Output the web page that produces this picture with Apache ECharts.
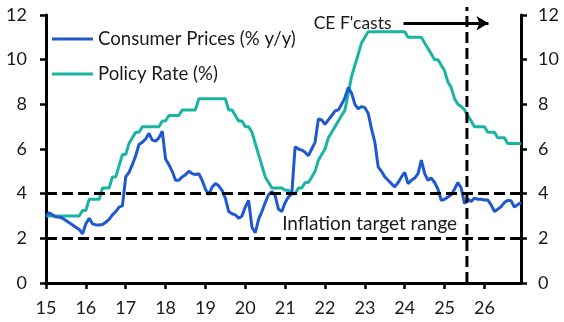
<!DOCTYPE html>
<html>
<head>
<meta charset="utf-8">
<script src="https://cdn.jsdelivr.net/npm/echarts@6/dist/echarts.min.js"></script>
<style>
html,body{margin:0;padding:0;background:#fff;}
#chart{width:564px;height:322px;}
</style>
</head>
<body>
<div id="chart"></div>
<script>
// Monthly data, Jan 2015 (index 0) .. Dec 2026 (index 143)
const startYear = 15;
const consumerPrices = [
  3.0, 3.15, 3.05, 2.95, 2.95, 2.9, 2.8, 2.7, 2.6, 2.5, 2.4, 2.2,
  2.65, 2.9, 2.65, 2.6, 2.6, 2.62, 2.72, 2.85, 3.05, 3.2, 3.4, 3.45,
  4.75, 4.95, 5.3, 5.7, 6.2, 6.3, 6.45, 6.7, 6.4, 6.35, 6.5, 6.8,
  5.55, 5.3, 5.0, 4.6, 4.6, 4.75, 4.85, 5.0, 4.9, 4.85, 4.9, 4.6,
  4.2, 3.95, 4.3, 4.45, 4.35, 4.15, 3.8, 3.2, 3.1, 3.05, 2.9, 3.0,
  3.4, 3.7, 2.5, 2.25, 2.85, 3.2, 3.6, 3.95, 4.1, 3.9, 3.3, 3.2,
  3.6, 3.85, 4.0, 6.1, 6.0, 5.95, 5.85, 5.7, 6.0, 6.3, 7.35, 7.3,
  7.1, 7.3, 7.5, 7.7, 7.75, 8.0, 8.3, 8.75, 8.5, 8.0, 7.8, 7.9,
  7.85, 7.6, 6.9, 6.3, 5.2, 5.0, 4.75, 4.6, 4.45, 4.3, 4.5, 4.75,
  4.95, 4.45, 4.6, 4.7, 4.9, 5.5, 4.9, 4.6, 4.7, 4.5, 4.2, 3.7,
  3.75, 3.85, 3.95, 4.2, 4.5, 4.25, 3.55, 3.75, 3.65, 3.8, 3.75, 3.75,
  3.72, 3.72, 3.5, 3.2, 3.3, 3.42, 3.6, 3.7, 3.68, 3.4, 3.5, 3.6
];
const policyRate = [
  3.0, 3.0, 3.0, 3.0, 3.0, 3.0, 3.0, 3.0, 3.0, 3.0, 3.0, 3.25,
  3.25, 3.75, 3.75, 3.75, 3.75, 4.25, 4.25, 4.25, 4.75, 4.75, 5.25, 5.75,
  5.75, 6.25, 6.5, 6.75, 6.75, 7.0, 7.0, 7.0, 7.0, 7.0, 7.0, 7.25,
  7.25, 7.5, 7.5, 7.5, 7.5, 7.75, 7.75, 7.75, 7.75, 7.75, 8.25, 8.25,
  8.25, 8.25, 8.25, 8.25, 8.25, 8.25, 8.25, 7.75, 7.75, 7.5, 7.25, 7.25,
  7.0, 7.0, 6.75, 6.25, 5.75, 5.25, 4.75, 4.5, 4.25, 4.25, 4.25, 4.25,
  4.15, 4.15, 4.0, 4.0, 4.25, 4.25, 4.5, 4.5, 4.75, 5.0, 5.5, 5.75,
  6.0, 6.5, 6.75, 7.0, 7.25, 7.5, 7.75, 8.5, 9.25, 9.75, 10.25, 10.75,
  11.0, 11.25, 11.25, 11.25, 11.25, 11.25, 11.25, 11.25, 11.25, 11.25, 11.25, 11.25,
  11.25, 11.0, 11.0, 11.0, 11.0, 11.0, 10.75, 10.5, 10.25, 10.0, 10.0, 9.75,
  9.5, 9.0, 8.75, 8.25, 8.0, 7.9, 7.75, 7.5, 7.25, 7.0, 7.0, 7.0,
  7.0, 6.75, 6.75, 6.75, 6.5, 6.5, 6.5, 6.25, 6.25, 6.25, 6.25, 6.25
];
const xTickLabels = [15, 16, 17, 18, 19, 20, 21, 22, 23, 24, 25, 26];
const yTicks = [0, 2, 4, 6, 8, 10, 12];
const targetRange = [2, 4];
const forecastStart = 25.56;
const forecastLineTop = 12.36;
const arrowY = 11.63;
const arrowFrom = 23.97;
const arrowTo = 26.1;
const targetLabelPos = [23.12, 2.64];
const seriesNames = ['Consumer Prices (% y/y)', 'Policy Rate (%)'];

const toPairs = arr => arr.map((v, i) => [startYear + i / 12, v]);
const xMax = startYear + (consumerPrices.length - 1) / 12;

const FONT = 'Lato';
const TXT = '#1a1a1a';
const BLUE = '#2058D0';
const TEAL = '#19B4A4';

const yAxisCommon = {
  type: 'value', min: 0, max: 12, interval: 2,
  splitLine: { show: false },
  axisLine: { show: true, lineStyle: { color: '#000', width: 3 } },
  axisTick: { show: true, length: 6, lineStyle: { color: '#000', width: 2.5 } },
  axisLabel: { color: TXT, fontFamily: FONT, fontSize: 18 }
};

const chart = echarts.init(document.getElementById('chart'), null, { renderer: 'canvas' });
chart.setOption({
  animation: false,
  backgroundColor: '#fff',
  grid: { left: 46, right: 43, top: 15, bottom: 39, containLabel: false },
  legend: {
    data: seriesNames,
    orient: 'vertical',
    left: 52, top: 29, padding: 0,
    icon: 'rect', itemWidth: 41, itemHeight: 3, itemGap: 15,
    textStyle: { color: TXT, fontFamily: FONT, fontSize: 18.6, lineHeight: 20 }
  },
  xAxis: {
    type: 'value', min: startYear, max: xMax,
    splitLine: { show: false },
    axisLine: { show: true, lineStyle: { color: '#000', width: 3 } },
    axisTick: { show: true, length: 6, customValues: xTickLabels, lineStyle: { color: '#000', width: 2.5 } },
    axisLabel: { customValues: xTickLabels, color: TXT, fontFamily: FONT, fontSize: 18, margin: 16 }
  },
  yAxis: [
    Object.assign({}, yAxisCommon, { position: 'left', axisLabel: Object.assign({}, yAxisCommon.axisLabel, { margin: 19 }) }),
    Object.assign({}, yAxisCommon, { position: 'right', axisLabel: Object.assign({}, yAxisCommon.axisLabel, { margin: 17 }) })
  ],
  series: [
    {
      name: seriesNames[0], type: 'line', data: toPairs(consumerPrices),
      showSymbol: false, symbol: 'none', lineStyle: { color: BLUE, width: 3 }, itemStyle: { color: BLUE },
      z: 3
    },
    {
      name: seriesNames[1], type: 'line', data: toPairs(policyRate),
      showSymbol: false, symbol: 'none', lineStyle: { color: TEAL, width: 3 }, itemStyle: { color: TEAL },
      z: 2
    },
    {
      name: 'forecast', type: 'line', clip: false, silent: true,
      data: [[forecastStart, 0], [forecastStart, forecastLineTop]],
      symbol: 'none', lineStyle: { color: '#000', width: 3, type: [11, 5] },
      z: 5,
      markLine: {
        silent: true, symbol: ['none', 'none'], animation: false,
        lineStyle: { color: '#000', width: 3, type: [11, 5] },
        label: { show: false },
        data: [
          { yAxis: targetRange[1] },
          { yAxis: targetRange[0] },
          [
            { coord: [arrowFrom, arrowY], symbol: 'none',
              lineStyle: { type: 'solid', width: 3, color: '#000' },
              label: { show: true, position: 'start', distance: 12, formatter: "CE F'casts",
                       color: TXT, fontFamily: FONT, fontSize: 17.5 } },
            { coord: [arrowTo, arrowY], symbol: 'arrow', symbolSize: [11, 12] }
          ]
        ]
      },
      markPoint: {
        silent: true, animation: false,
        data: [{
          coord: targetLabelPos, symbol: 'rect', symbolSize: 1,
          itemStyle: { color: 'rgba(0,0,0,0)' },
          label: { show: true, position: 'inside', formatter: 'Inflation target range',
                   color: TXT, fontFamily: FONT, fontSize: 19 }
        }]
      }
    }
  ]
});
</script>
</body>
</html>
